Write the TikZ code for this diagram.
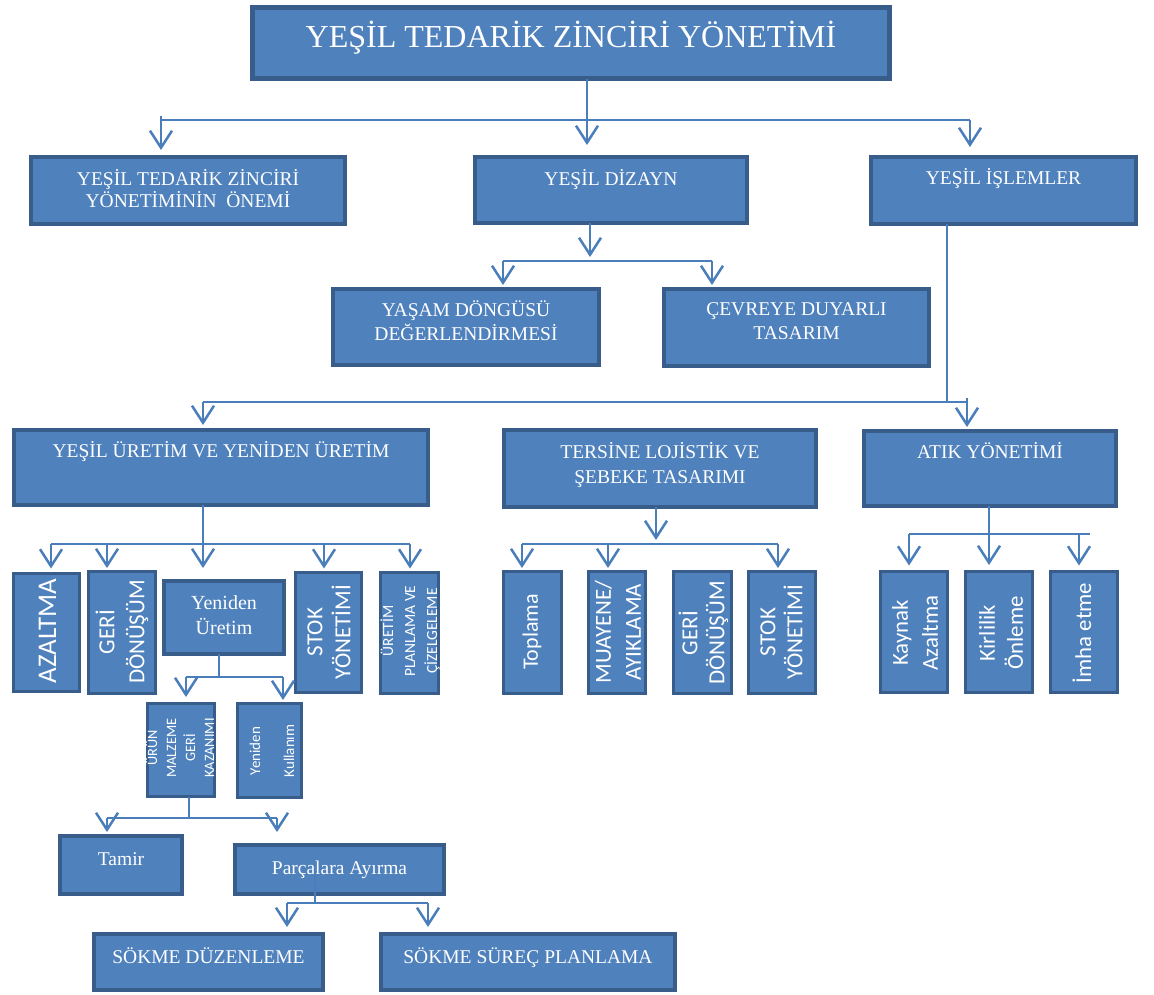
\documentclass[tikz,border=0pt]{standalone}
\usepackage{fontspec}
\setmainfont{Liberation Serif}
\newfontfamily\sansfam{Carlito}
\usetikzlibrary{arrows.meta}
\definecolor{boxfill}{HTML}{4F81BD}
\definecolor{boxedge}{HTML}{385D8A}
\definecolor{linkc}{HTML}{4A7EBB}

\begin{document}
\begin{tikzpicture}[x=1pt,y=-1pt,
  box/.style={draw=boxedge, fill=boxfill, line width=4pt, inner sep=0pt, outer sep=0pt},
  tbox/.style={box, line width=5pt},
  sbox/.style={box, line width=3.5pt},
  hlab/.style={text=white, align=center, inner sep=0pt, anchor=base, font=\fontsize{19.5}{23}\selectfont},
  vlab/.style={text=white, align=center, inner sep=0pt, rotate=90},
  link/.style={draw=linkc, line width=2pt},
  arr/.style={link, -{Straight Barb[length=17pt,width=22pt,line width=2.5pt]}},
]
\useasboundingbox (0,0) rectangle (1154,994);

% ---------- boxes ----------
\node[tbox, minimum width=637, minimum height=71] (top) at (571,43) {};
\node[box, minimum width=314, minimum height=67] (a) at (188,190.5) {};
\node[box, minimum width=272, minimum height=66] (b) at (611,190) {};
\node[box, minimum width=265, minimum height=67] (c) at (1003.5,190.5) {};
\node[box, minimum width=266, minimum height=76] (d) at (466,327) {};
\node[box, minimum width=265, minimum height=77] (e) at (796.5,327.5) {};
\node[box, minimum width=414, minimum height=75] (f) at (221,467.5) {};
\node[box, minimum width=312, minimum height=77] (g) at (660,468.5) {};
\node[box, minimum width=252, minimum height=75] (h) at (990,468.5) {};
\node[box, minimum width=120, minimum height=73] (yu) at (224,617.5) {};
\node[box, minimum width=122, minimum height=58] (tam) at (121,865) {};
\node[box, minimum width=209, minimum height=49] (parca) at (339.5,869.5) {};
\node[box, minimum width=229, minimum height=56] (sd) at (208.5,962) {};
\node[box, minimum width=294, minimum height=56] (ss) at (528,962) {};

\node[sbox, minimum width=66, minimum height=118] (az) at (46.5,632.5) {};
\node[sbox, minimum width=67, minimum height=122] (gd) at (122,632.5) {};
\node[sbox, minimum width=66, minimum height=120] (sy) at (328.5,632.5) {};
\node[sbox, minimum width=58, minimum height=121] (up) at (409.5,633) {};
\node[sbox, minimum width=67, minimum height=93] (urun) at (181,750) {};
\node[sbox, minimum width=64, minimum height=94] (ykul) at (269.5,750.5) {};
\node[sbox, minimum width=58, minimum height=122] (top1) at (532.5,632.5) {};
\node[sbox, minimum width=57, minimum height=122] (mua) at (617,632.5) {};
\node[sbox, minimum width=58, minimum height=122] (gd2) at (702.5,632.5) {};
\node[sbox, minimum width=67, minimum height=122] (sy2) at (782,632.5) {};
\node[sbox, minimum width=67, minimum height=121] (kay) at (914,632) {};
\node[sbox, minimum width=67, minimum height=121] (kir) at (999,632) {};
\node[sbox, minimum width=67, minimum height=121] (imh) at (1084,632) {};

% ---------- horizontal labels (anchored at the baseline of the last line) ----------
\node[hlab, font=\fontsize{32}{38}\selectfont] (topT) at (571,47) {YEŞİL TEDARİK ZİNCİRİ YÖNETİMİ};
\node[hlab, font=\fontsize{19.5}{22}\selectfont] (aT) at (188,207) {YEŞİL TEDARİK ZİNCİRİ\\YÖNETİMİNİN\ \ ÖNEMİ};
\node[hlab] (bT) at (611,185.5) {YEŞİL DİZAYN};
\node[hlab] (cT) at (1003.5,184.5) {YEŞİL İŞLEMLER};
\node[hlab, font=\fontsize{19.5}{23.5}\selectfont] (dT) at (466,340) {YAŞAM DÖNGÜSÜ\\DEĞERLENDİRMESİ};
\node[hlab, font=\fontsize{19.5}{24}\selectfont] (eT) at (796.5,339.5) {ÇEVREYE DUYARLI\\TASARIM};
\node[hlab] (fT) at (221,457.5) {YEŞİL ÜRETİM VE YENİDEN ÜRETİM};
\node[hlab, font=\fontsize{19.5}{25}\selectfont] (gT) at (660,483.5) {TERSİNE LOJİSTİK VE\\ŞEBEKE TASARIMI};
\node[hlab] (hT) at (990,458.5) {ATIK YÖNETİMİ};
\node[hlab, font=\fontsize{20}{25}\selectfont] (yuT) at (224,634) {Yeniden\\Üretim};
\node[hlab] (tamT) at (121,865) {Tamir};
\node[hlab] (parcaT) at (339.5,874) {Parçalara Ayırma};
\node[hlab] (sdT) at (208.5,963) {SÖKME DÜZENLEME};
\node[hlab] (ssT) at (528,963) {SÖKME SÜREÇ PLANLAMA};

% ---------- vertical labels ----------
\node[vlab, font=\sansfam\fontsize{27}{30}\selectfont] (azT) at (47.5,631) {AZALTMA};
\node[vlab, font=\sansfam\fontsize{23}{30}\selectfont] (gdT) at (122,632) {GERİ\\DÖNÜŞÜM};
\node[vlab, font=\sansfam\fontsize{23}{28}\selectfont] (syT) at (329,632) {STOK\\YÖNETİMİ};
\node[vlab, font=\sansfam\fontsize{15.5}{22}\selectfont] (upT) at (410,631) {ÜRETİM\\PLANLAMA VE\\ÇİZELGELEME};
\node[vlab, font=\sansfam\fontsize{14.3}{19}\selectfont] (urunT) at (180,748) {ÜRÜN\\MALZEME\\GERİ\\KAZANIMI};
\node[vlab, font=\sansfam\fontsize{15}{34}\selectfont] (ykulT) at (272,751) {Yeniden\\Kullanım};
\node[vlab, font=\sansfam\fontsize{22}{28}\selectfont] (top1T) at (532,632) {Toplama};
\node[vlab, font=\sansfam\fontsize{23}{30}\selectfont] (muaT) at (618,632) {MUAYENE/\\AYIKLAMA};
\node[vlab, font=\sansfam\fontsize{23}{27}\selectfont] (gd2T) at (703.5,633) {GERİ\\DÖNÜŞÜM};
\node[vlab, font=\sansfam\fontsize{23}{27}\selectfont] (sy2T) at (781.5,632) {STOK\\YÖNETİMİ};
\node[vlab, font=\sansfam\fontsize{22.8}{30}\selectfont] (kayT) at (915,633) {Kaynak\\Azaltma};
\node[vlab, font=\sansfam\fontsize{22.8}{28}\selectfont] (kirT) at (1001,633) {Kirlilik\\Önleme};
\node[vlab, font=\sansfam\fontsize{22.8}{28}\selectfont] (imhT) at (1082,633) {İmha etme};

% ---------- connectors ----------
% title -> level 2
\coordinate (t0) at (587,120);
\coordinate (tL) at (161,120);
\coordinate (tR) at (970,120);
\draw[link] (tL) -- (tR);
\draw[arr, shorten >=12pt] (top.south -| t0) -- (t0 |- b.north);
\draw[arr, shorten >=7pt] (161,116) -- (tL |- a.north);
\draw[arr, shorten >=10pt] (tR) -- (tR |- c.north);

% YEŞİL DİZAYN -> level 3
\coordinate (bj) at (590,261);
\coordinate (bL) at (503,261);
\coordinate (bR) at (712,261);
\draw[link] (bL) -- (bR);
\draw[arr, shorten >=4pt] (b.south -| bj) -- (bj);
\draw[arr, shorten >=4pt] (bL) -- (bL |- d.north);
\draw[arr, shorten >=4pt] (bR) -- (bR |- e.north);

% YEŞİL İŞLEMLER -> level 4
\coordinate (cj) at (947,402);
\coordinate (cL) at (203,402);
\coordinate (cR) at (967,402);
\draw[link] (c.south -| cj) -- (cj);
\draw[link] (cL) -- (cR);
\draw[arr, shorten >=5pt] (cL) -- (cL |- f.north);
\draw[arr, shorten >=4pt] (967,398) -- (cR |- h.north);

% YEŞİL ÜRETİM -> children
\coordinate (fj) at (203,544);
\coordinate (fL) at (51,544);
\coordinate (f2) at (107,544);
\coordinate (f4) at (324,544);
\coordinate (fR) at (410,544);
\draw[link] (fL) -- (fR);
\draw[arr, shorten >=13pt] (f.south -| fj) -- (fj |- yu.north);
\draw[arr, shorten >=5pt] (fL) -- (fL |- az.north);
\draw[arr, shorten >=3.5pt] (f2) -- (f2 |- gd.north);
\draw[arr, shorten >=4pt] (f4) -- (f4 |- sy.north);
\draw[arr, shorten >=4pt] (fR) -- (fR |- up.north);

% TERSİNE LOJİSTİK -> children
\coordinate (gj) at (656,544);
\coordinate (gL) at (522,544);
\coordinate (g2) at (608,544);
\coordinate (gR) at (778,544);
\draw[link] (gL) -- (gR);
\draw[arr, shorten >=4pt] (g.south -| gj) -- (gj);
\draw[arr, shorten >=3.5pt] (gL) -- (gL |- top1.north);
\draw[arr, shorten >=3.5pt] (g2) -- (g2 |- mua.north);
\draw[arr, shorten >=3.5pt] (gR) -- (gR |- sy2.north);

% ATIK YÖNETİMİ -> children
\coordinate (hj) at (989,534);
\coordinate (hL) at (909,534);
\coordinate (h3) at (1079,534);
\coordinate (hR) at (1090,534);
\draw[link] (hL) -- (hR);
\draw[arr, shorten >=6.5pt] (h.south -| hj) -- (hj |- kir.north);
\draw[arr, shorten >=6pt] (hL) -- (hL |- kay.north);
\draw[arr, shorten >=6pt] (h3) -- (h3 |- imh.north);

% Yeniden Üretim -> children
\coordinate (yj) at (219,677);
\coordinate (yL) at (186,677);
\coordinate (yR) at (283,677);
\draw[link] (yu.south -| yj) -- (yj);
\draw[link] (yL) -- (yR);
\draw[arr, shorten >=6.5pt] (yL) -- (yL |- urun.north);
\draw[arr, shorten >=3.5pt] (yR) -- (yR |- ykul.north);

% ÜRÜN MALZEME GERİ KAZANIMI -> children
\coordinate (uj) at (189,818);
\coordinate (uL) at (107,818);
\coordinate (uR) at (277,818);
\draw[link] (urun.south -| uj) -- (uj);
\draw[link] (uL) -- (uR);
\draw[arr, shorten >=4pt] (uL) -- (uL |- tam.north);
\draw[arr, shorten >=13pt] (uR) -- (uR |- parca.north);

% Parçalara Ayırma -> children
\coordinate (pj) at (315,903);
\coordinate (pL) at (287,903);
\coordinate (pR) at (428,903);
\draw[link] (parca.center -| pj) -- (pj);
\draw[link] (pL) -- (pR);
\draw[arr, shorten >=7pt] (pL) -- (pL |- sd.north);
\draw[arr, shorten >=7pt] (pR) -- (pR |- ss.north);
\end{tikzpicture}
\end{document}
